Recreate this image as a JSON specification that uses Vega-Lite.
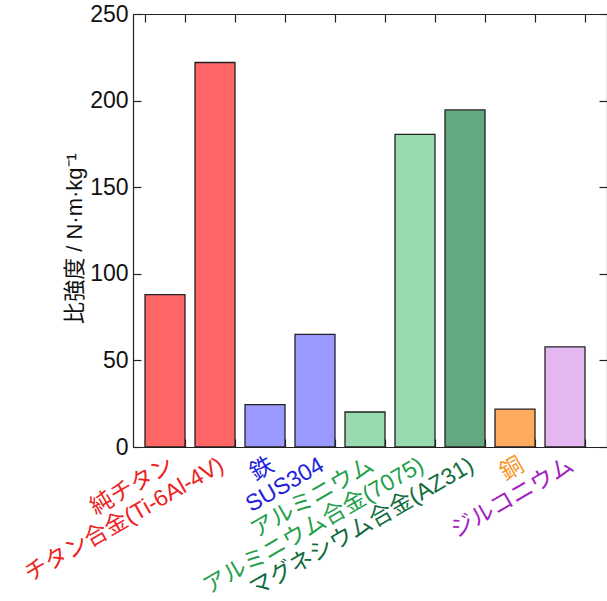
{
  "$schema": "https://vega.github.io/schema/vega-lite/v6.json",
  "width": 474,
  "height": 433,
  "autosize": {"type": "none"},
  "padding": {"left": 133, "top": 14, "right": 0, "bottom": 154},
  "background": "white",
  "data": {"values": [
    {"material": "純チタン", "value": 88, "fill": "#ff6666"},
    {"material": "チタン合金(Ti-6Al-4V)", "value": 222, "fill": "#ff6666"},
    {"material": "鉄", "value": 24.5, "fill": "#9999ff"},
    {"material": "SUS304", "value": 65, "fill": "#9999ff"},
    {"material": "アルミニウム", "value": 20.2, "fill": "#99dab0"},
    {"material": "アルミニウム合金(7075)", "value": 180.5, "fill": "#99dab0"},
    {"material": "マグネシウム合金(AZ31)", "value": 194.6, "fill": "#64a880"},
    {"material": "銅", "value": 21.9, "fill": "#ffaa5c"},
    {"material": "ジルコニウム", "value": 57.8, "fill": "#e5b7f0"}
  ]},
  "config": {
    "view": {"stroke": null},
    "font": "'Liberation Sans', 'Noto Sans CJK JP', sans-serif",
    "axis": {"domainColor": "#222", "tickColor": "#222", "grid": false, "domainWidth": 1.2, "tickWidth": 1.2}
  },
  "layer": [
    {
      "mark": {"type": "bar", "stroke": "#222", "strokeWidth": 1.3},
      "encoding": {
        "x": {"field": "material", "type": "nominal", "sort": null,
          "scale": {"paddingInner": 0.2, "paddingOuter": 0.34, "align": 0.353},
          "axis": {"title": null, "orient": "bottom", "labelAngle": -30, "labelAlign": "right", "labelBaseline": "middle",
            "labelFontSize": 23, "ticks": false, "labelPadding": 16, "labelOffset": 7, "labelLimit": 500,
            "labelColor": {"expr": "(datum.value == '純チタン' || datum.value == 'チタン合金(Ti-6Al-4V)') ? '#ee2222' : (datum.value == '鉄' || datum.value == 'SUS304') ? '#2222dd' : (datum.value == 'アルミニウム' || datum.value == 'アルミニウム合金(7075)') ? '#1fa04a' : datum.value == 'マグネシウム合金(AZ31)' ? '#106b3c' : datum.value == '銅' ? '#f7931e' : '#a020c0'"}}},
        "y": {"field": "value", "type": "quantitative", "scale": {"domain": [0, 250], "nice": false},
          "axis": {"title": "比強度 / N·m·kg⁻¹", "orient": "left", "values": [0, 50, 100, 150, 200, 250], "ticks": false, "labelPadding": 5,
            "labelFontSize": 23, "labelColor": "#111", "titleFontSize": 22, "titleFontWeight": "normal", "titleColor": "#111", "titlePadding": 3, "titleY": 224}},
        "fill": {"field": "fill", "type": "nominal", "scale": null}
      }
    },
    {
      "mark": {"type": "bar", "opacity": 0},
      "encoding": {
        "x": {"field": "material", "type": "nominal", "sort": null,
          "axis": {"orient": "top", "title": null, "labels": false, "ticks": false}},
        "y": {"field": "value", "type": "quantitative",
          "axis": {"orient": "right", "title": null, "labels": false, "ticks": false}}
      }
    },
    {
      "mark": {"type": "bar", "opacity": 0},
      "encoding": {
        "x": {"field": "material", "type": "nominal", "sort": null,
          "axis": {"orient": "bottom", "title": null, "labels": false, "domain": false, "tickSize": 8, "tickBand": "extent", "offset": -8}},
        "y": {"field": "value", "type": "quantitative",
          "axis": {"orient": "left", "title": null, "labels": false, "domain": false, "tickSize": 8, "offset": -8, "values": [0, 50, 100, 150, 200, 250]}}
      }
    },
    {
      "mark": {"type": "bar", "opacity": 0},
      "encoding": {
        "x": {"field": "material", "type": "nominal", "sort": null,
          "axis": {"orient": "top", "title": null, "labels": false, "domain": false, "tickSize": 8, "tickBand": "extent", "offset": -8}},
        "y": {"field": "value", "type": "quantitative",
          "axis": {"orient": "right", "title": null, "labels": false, "domain": false, "tickSize": 8, "offset": -8, "values": [0, 50, 100, 150, 200, 250]}}
      }
    }
  ],
  "resolve": {"axis": {"x": "independent", "y": "independent"}}
}
